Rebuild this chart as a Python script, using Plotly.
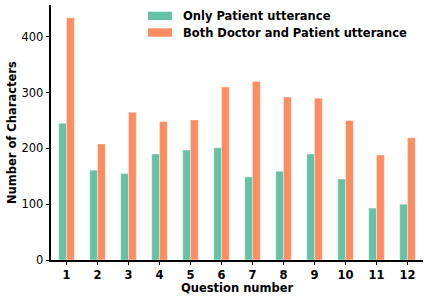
import plotly.graph_objects as go

questions = [str(i) for i in range(1, 13)]
only_patient = [245, 161, 155, 190, 197, 201, 149, 159, 190, 145, 93, 100]
both_doc_patient = [434, 208, 265, 248, 251, 310, 320, 292, 290, 250, 188, 219]
series_names = ["Only Patient utterance", "Both Doctor and Patient utterance"]
series_colors = ["#66c2a5", "#fc8d62"]
x_title = "Question number"
y_title = "Number of Characters"

font_family = "DejaVu Sans"

fig = go.Figure()
for vals, name, col in zip([only_patient, both_doc_patient], series_names, series_colors):
    fig.add_trace(go.Bar(x=questions, y=vals, name=name, showlegend=False,
                         marker=dict(color=col, line=dict(color="rgba(255,255,255,0.6)", width=0.6))))

# manual legend (matplotlib-style wide swatches)
leg_rows = [(0.9737, 0.941, 0.957), (0.9086, 0.8757, 0.892)]
for (ytop, ybot, ytxt), name, col in zip(leg_rows, series_names, series_colors):
    fig.add_shape(type="rect", xref="paper", yref="paper", x0=0.2608, x1=0.3253, y0=ybot, y1=ytop,
                  fillcolor=col, line=dict(width=0))
    fig.add_annotation(xref="paper", yref="paper", x=0.3495, y=ytxt, xanchor="left", yanchor="middle",
                       text="<b>" + name + "</b>", showarrow=False,
                       font=dict(size=11.5, family=font_family, color="black"))

# axis titles as annotations for precise placement
fig.add_annotation(xref="paper", yref="paper", x=0.5, y=-0.109, xanchor="center", yanchor="middle",
                   text="<b>" + x_title + "</b>", showarrow=False,
                   font=dict(size=11.5, family=font_family, color="black"))
fig.add_annotation(xref="paper", yref="paper", x=-0.106, y=0.5, xanchor="center", yanchor="middle",
                   text="<b>" + y_title + "</b>", showarrow=False, textangle=-90,
                   font=dict(size=11.5, family=font_family, color="black"))

fig.update_layout(
    width=429, height=298,
    margin=dict(l=51, r=6, t=5, b=38, autoexpand=False),
    paper_bgcolor="white", plot_bgcolor="white",
    barmode="group", bargap=0.5, bargroupgap=0,
    font=dict(family=font_family, size=11.5, color="black"),
    showlegend=False,
    xaxis=dict(type="category", range=[-0.5, 11.5], showline=True, linecolor="black", linewidth=1.5,
               ticks="outside", ticklen=3.5, tickwidth=1.2, tickcolor="black",
               tickfont=dict(size=11.5, family=font_family),
               tickprefix="<b>", ticksuffix="</b>",
               showgrid=False, zeroline=False),
    yaxis=dict(range=[0, 457], showline=True, linecolor="black", linewidth=1.5,
               ticks="outside", ticklen=3.5, tickwidth=1.2, tickcolor="black",
               tickvals=[0, 100, 200, 300, 400],
               tickfont=dict(size=11.5, family=font_family),
               tickprefix="<b>", ticksuffix="</b>",
               showgrid=False, zeroline=False),
)

fig.write_html("out.html", config={"displayModeBar": False},
               post_script="document.body.style.margin='0';document.body.style.overflow='hidden';")
